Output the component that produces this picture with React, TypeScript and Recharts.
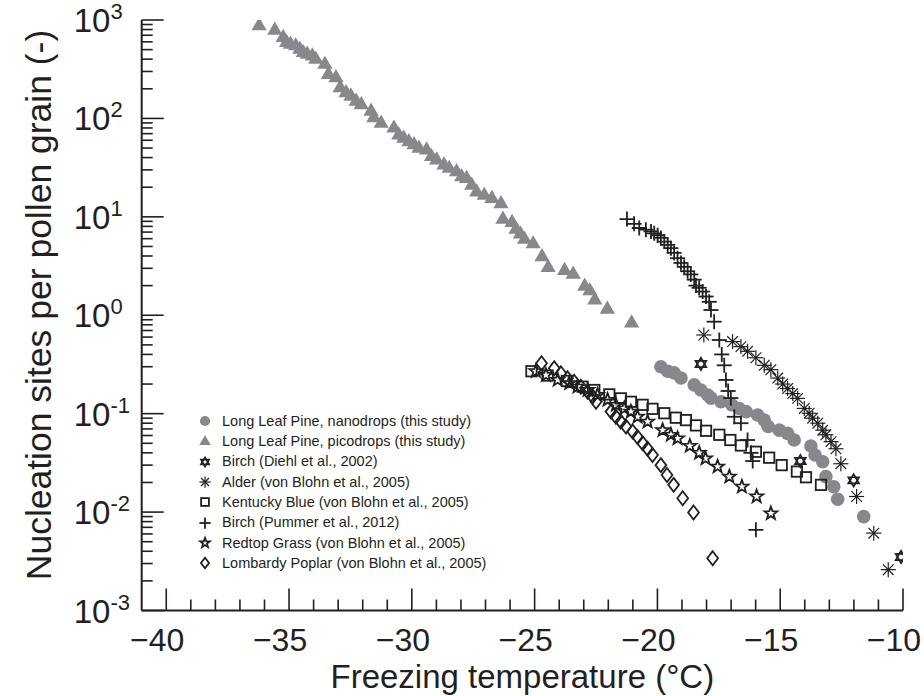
import { ScatterChart, Scatter, XAxis, YAxis, Legend } from 'recharts';

const INK = '#231f20';
const GREY = '#86888b';
const FONT = '"Liberation Sans", Arial, Helvetica, sans-serif';

// [freezing temperature (°C), nucleation sites per pollen grain]
const nanodrops: [number, number][] = [
  [-19.86, 0.3], [-19.58, 0.27], [-19.32, 0.26], [-19.04, 0.23], [-18.5, 0.196],
  [-18.23, 0.174], [-17.95, 0.155], [-17.82, 0.144], [-17.41, 0.132], [-16.97, 0.123],
  [-16.67, 0.113], [-16.39, 0.105], [-15.92, 0.097], [-15.65, 0.086], [-15.49, 0.074],
  [-15.04, 0.068], [-14.7, 0.063], [-14.43, 0.054], [-13.75, 0.047], [-13.58, 0.038],
  [-13.27, 0.0325], [-13.14, 0.0229], [-12.82, 0.0181], [-12.66, 0.0135], [-11.6, 0.009],
];

const picodrops: [number, number][] = [
  [-36.22, 887], [-35.58, 802], [-35.24, 675], [-35.1, 600], [-34.94, 577], [-34.73, 555],
  [-34.56, 512], [-34.42, 474], [-34.26, 456], [-34.05, 438], [-33.91, 405], [-33.54, 360],
  [-33.4, 284], [-33.09, 263], [-32.92, 208], [-32.68, 185], [-32.48, 171], [-32.27, 152],
  [-32.06, 140], [-31.66, 120], [-31.55, 103], [-31.25, 91], [-30.73, 81], [-30.53, 69],
  [-30.33, 64], [-30.12, 59], [-29.91, 55], [-29.71, 50.5], [-29.4, 48.6], [-29.2, 41.6],
  [-28.99, 38.4], [-28.69, 34.2], [-28.48, 31.6], [-28.18, 29.2], [-27.97, 25.9], [-27.77, 24.9],
  [-27.56, 21.3], [-27.36, 18.2], [-27.05, 16.8], [-26.74, 15.6], [-26.37, 13.8], [-26.29, 9.6],
  [-25.92, 8.9], [-25.76, 7.6], [-25.58, 6.8], [-25.41, 6.0], [-25.06, 5.4], [-24.7, 4.0],
  [-24.45, 3.1], [-23.78, 2.9], [-23.43, 2.65], [-22.96, 2.0], [-22.75, 1.8], [-22.55, 1.45],
  [-22.04, 1.17], [-21.05, 0.85],
];

const birchDiehl: [number, number][] = [
  [-18.23, 0.32], [-14.18, 0.033], [-12.01, 0.021], [-10.08, 0.0035],
];

const alder: [number, number][] = [
  [-18.11, 0.63], [-16.94, 0.54], [-16.6, 0.48], [-16.33, 0.43], [-15.99, 0.37], [-15.65, 0.31],
  [-15.38, 0.28], [-15.1, 0.23], [-14.9, 0.2], [-14.7, 0.18], [-14.49, 0.16], [-14.29, 0.143],
  [-14.02, 0.113], [-13.82, 0.101], [-13.68, 0.09], [-13.47, 0.08], [-13.27, 0.068], [-13.14, 0.061],
  [-12.93, 0.052], [-12.73, 0.044], [-12.53, 0.031], [-11.89, 0.0144], [-11.19, 0.0061], [-10.6, 0.0026],
];

const kentuckyBlue: [number, number][] = [
  [-25.13, 0.27], [-24.47, 0.244], [-23.69, 0.215], [-23.05, 0.188], [-22.57, 0.174], [-21.96, 0.157],
  [-21.49, 0.143], [-21.08, 0.132], [-20.6, 0.123], [-20.2, 0.112], [-19.72, 0.101], [-19.25, 0.091],
  [-18.84, 0.086], [-18.43, 0.076], [-18.02, 0.067], [-17.48, 0.061], [-17.03, 0.054], [-16.6, 0.0475],
  [-15.99, 0.041], [-15.45, 0.0357], [-14.94, 0.03], [-14.32, 0.0258], [-13.95, 0.0226], [-13.34, 0.0189],
];

const birchPummer: [number, number][] = [
  [-21.24, 9.5], [-20.95, 8.5], [-20.74, 7.7], [-20.47, 7.4], [-20.26, 7.1], [-20.13, 6.8],
  [-19.99, 6.5], [-19.86, 6.1], [-19.72, 5.6], [-19.58, 5.2], [-19.45, 4.8], [-19.32, 4.3],
  [-19.18, 3.8], [-19.04, 3.4], [-18.91, 3.1], [-18.77, 2.8], [-18.64, 2.6], [-18.5, 2.3],
  [-18.43, 2.0], [-18.3, 1.9], [-18.16, 1.74], [-18.02, 1.55], [-17.89, 1.37], [-17.82, 1.13],
  [-17.69, 0.86], [-17.48, 0.56], [-17.38, 0.4], [-17.28, 0.31], [-17.21, 0.22], [-17.12, 0.17],
  [-17.01, 0.144], [-16.87, 0.093], [-16.6, 0.08], [-16.33, 0.054], [-16.19, 0.04], [-16.12, 0.033],
  [-15.99, 0.0066],
];

const redtopGrass: [number, number][] = [
  [-24.95, 0.27], [-24.54, 0.247], [-24.06, 0.22], [-23.59, 0.204], [-23.25, 0.188], [-22.84, 0.174],
  [-22.44, 0.155], [-22.03, 0.138], [-21.69, 0.123], [-21.35, 0.113], [-21.08, 0.105], [-20.81, 0.093],
  [-20.4, 0.083], [-19.79, 0.068], [-19.45, 0.061], [-19.18, 0.056], [-18.68, 0.047], [-18.3, 0.04],
  [-18.04, 0.035], [-17.55, 0.029], [-17.07, 0.0229], [-16.56, 0.0181], [-15.96, 0.0144], [-15.38, 0.0097],
];

const lombardyPoplar: [number, number][] = [
  [-24.72, 0.325], [-24.2, 0.289], [-23.93, 0.257], [-23.66, 0.229], [-23.39, 0.211], [-23.12, 0.188],
  [-22.84, 0.167], [-22.64, 0.149], [-22.5, 0.132], [-21.89, 0.105], [-21.69, 0.093], [-21.49, 0.083],
  [-21.28, 0.074], [-21.01, 0.066], [-20.81, 0.058], [-20.6, 0.05], [-20.4, 0.044], [-20.2, 0.038],
  [-19.86, 0.03], [-19.61, 0.0238], [-19.34, 0.0189], [-18.97, 0.0138], [-18.53, 0.0099], [-17.75, 0.0034],
];

const xTicks = Array.from({ length: 31 }, (_, i) => -40 + i);
const yExponents = [-3, -2, -1, 0, 1, 2, 3];
const yTicks = [
  ...yExponents.map((e) => 10 ** e),
  ...yExponents.slice(0, -1).flatMap((e) => [2, 3, 4, 5, 6, 7, 8, 9].map((m) => m * 10 ** e)),
];

type Kind = 'circle' | 'triangle' | 'hexagram' | 'asterisk' | 'square' | 'plus' | 'star' | 'diamond';

const series: { name: string; kind: Kind; data: [number, number][] }[] = [
  { name: 'Long Leaf Pine, nanodrops (this study)', kind: 'circle', data: nanodrops },
  { name: 'Long Leaf Pine, picodrops (this study)', kind: 'triangle', data: picodrops },
  { name: 'Birch (Diehl et al., 2002)', kind: 'hexagram', data: birchDiehl },
  { name: 'Alder (von Blohn et al., 2005)', kind: 'asterisk', data: alder },
  { name: 'Kentucky Blue (von Blohn et al., 2005)', kind: 'square', data: kentuckyBlue },
  { name: 'Birch (Pummer et al., 2012)', kind: 'plus', data: birchPummer },
  { name: 'Redtop Grass (von Blohn et al., 2005)', kind: 'star', data: redtopGrass },
  { name: 'Lombardy Poplar (von Blohn et al., 2005)', kind: 'diamond', data: lombardyPoplar },
];

const pts = (cx: number, cy: number, r: number, angles: number[]) =>
  angles.map((a) => `${cx + r * Math.cos((a * Math.PI) / 180)},${cy + r * Math.sin((a * Math.PI) / 180)}`).join(' ');

function Marker({ kind, cx, cy, k = 1 }: { kind: Kind; cx: number; cy: number; k?: number }) {
  switch (kind) {
    case 'circle':
      return <circle cx={cx} cy={cy} r={6.8 * k} fill={GREY} />;
    case 'triangle':
      return (
        <polygon
          points={`${cx},${cy - 8 * k} ${cx + 7.6 * k},${cy + 5.2 * k} ${cx - 7.6 * k},${cy + 5.2 * k}`}
          fill={GREY}
        />
      );
    case 'hexagram':
      return (
        <g fill="none" stroke={INK} strokeWidth={1.7}>
          <polygon points={pts(cx, cy, 6.2 * k, [-90, 30, 150])} />
          <polygon points={pts(cx, cy, 6.2 * k, [90, 210, 330])} />
        </g>
      );
    case 'asterisk': {
      const r = 7.5 * k;
      return (
        <g stroke={INK} strokeWidth={1.2}>
          {[0, 45, 90, 135].map((a) => {
            const dx = r * Math.cos((a * Math.PI) / 180);
            const dy = r * Math.sin((a * Math.PI) / 180);
            return <line key={a} x1={cx - dx} y1={cy - dy} x2={cx + dx} y2={cy + dy} />;
          })}
        </g>
      );
    }
    case 'square':
      return (
        <rect x={cx - 5.2 * k} y={cy - 5.2 * k} width={10.4 * k} height={10.4 * k} fill="none" stroke={INK} strokeWidth={1.8} />
      );
    case 'plus':
      return (
        <g stroke={INK} strokeWidth={1.8}>
          <line x1={cx - 7.5 * k} y1={cy} x2={cx + 7.5 * k} y2={cy} />
          <line x1={cx} y1={cy - 7.5 * k} x2={cx} y2={cy + 7.5 * k} />
        </g>
      );
    case 'star': {
      const angles = Array.from({ length: 10 }, (_, i) => -90 + i * 36);
      const p = angles
        .map((a, i) => {
          const r = (i % 2 === 0 ? 6.8 : 2.8) * k;
          return `${cx + r * Math.cos((a * Math.PI) / 180)},${cy + r * Math.sin((a * Math.PI) / 180)}`;
        })
        .join(' ');
      return <polygon points={p} fill="none" stroke={INK} strokeWidth={1.8} />;
    }
    case 'diamond':
      return (
        <polygon
          points={`${cx},${cy - 7 * k} ${cx + 5.4 * k},${cy} ${cx},${cy + 7 * k} ${cx - 5.4 * k},${cy}`}
          fill="none"
          stroke={INK}
          strokeWidth={1.8}
        />
      );
  }
  return null;
}

const YTick = (props: any) => {
  const { x, y, payload } = props;
  const v = payload.value as number;
  const e = Math.round(Math.log10(v));
  const major = Math.abs(Math.log10(v) - e) < 1e-6;
  return (
    <g>
      <line x1={x} y1={y} x2={x + (major ? 22 : 11)} y2={y} stroke={INK} strokeWidth={1.6} />
      {major && (
        <text x={x - 68} y={y + 12} fontSize={33} fill={INK} fontFamily={FONT}>
          10
          <tspan dy={-13} fontSize={22}>
            {e}
          </tspan>
        </text>
      )}
    </g>
  );
};

const XTick = (props: any) => {
  const { x, y, payload } = props;
  const v = payload.value as number;
  const major = v % 5 === 0;
  return (
    <g>
      <line x1={x} y1={y} x2={x} y2={y - (major ? 22 : 11)} stroke={INK} strokeWidth={1.6} />
      {major && (
        // digits centred on the tick, the minus sign hangs to the left
        <text x={x - 9} y={y + 40} textAnchor="middle" fontSize={32} fill={INK} fontFamily={FONT}>
          {'\u2212' + Math.abs(v)}
        </text>
      )}
    </g>
  );
};

const XTitle = (props: any) => {
  const { viewBox } = props;
  return (
    <text
      x={viewBox.x + viewBox.width / 2}
      y={viewBox.y + 77.5}
      textAnchor="middle"
      fontSize={33}
      fill={INK}
      fontFamily={FONT}
    >
      Freezing temperature (°C)
    </text>
  );
};

const YTitle = () => (
  <text x={51} y={305} transform="rotate(-90, 51, 305)" textAnchor="middle" fontSize={35.5} fill={INK} fontFamily={FONT}>
    Nucleation sites per pollen grain (-)
  </text>
);

const LegendBox = () => (
  <div style={{ fontFamily: FONT, fontSize: 14.5, color: INK, lineHeight: 1 }}>
    {series.map((s) => (
      <div key={s.name} style={{ display: 'flex', alignItems: 'center', height: 20.3, whiteSpace: 'nowrap' }}>
        <svg width={20} height={18} style={{ display: 'block' }}>
          <Marker kind={s.kind} cx={10} cy={9} k={0.75} />
        </svg>
        <span style={{ marginLeft: 7 }}>{s.name}</span>
      </div>
    ))}
  </div>
);

export default function App() {
  return (
    <div style={{ position: 'absolute', left: 0, top: 0, width: 924, height: 696, background: '#fff' }}>
      <ScatterChart width={924} height={696} margin={{ top: 20, right: 21, bottom: 0, left: 0 }}>
        <XAxis
          type="number"
          dataKey="x"
          domain={[-41, -10]}
          ticks={xTicks}
          interval={0}
          tick={<XTick />}
          tickLine={false}
          tickSize={0}
          tickMargin={0}
          height={85.5}
          axisLine={{ stroke: INK, strokeWidth: 2 }}
          allowDataOverflow
          label={<XTitle />}
        />
        <YAxis
          type="number"
          dataKey="y"
          scale="log"
          domain={[0.001, 1000]}
          ticks={yTicks}
          interval={0}
          tick={<YTick />}
          tickLine={false}
          tickSize={0}
          tickMargin={0}
          width={141.7}
          axisLine={{ stroke: INK, strokeWidth: 2 }}
          allowDataOverflow
          label={<YTitle />}
        />
        <Legend
          layout="vertical"
          align="center"
          verticalAlign="middle"
          wrapperStyle={{ left: 195, top: 411, width: 320 }}
          content={<LegendBox />}
        />
        {series.map((s) => (
          <Scatter
            key={s.name}
            name={s.name}
            data={s.data.map(([x, y]) => ({ x, y }))}
            isAnimationActive={false}
            shape={(p: any) => <Marker kind={s.kind} cx={p.cx} cy={p.cy} />}
          />
        ))}
      </ScatterChart>
    </div>
  );
}
